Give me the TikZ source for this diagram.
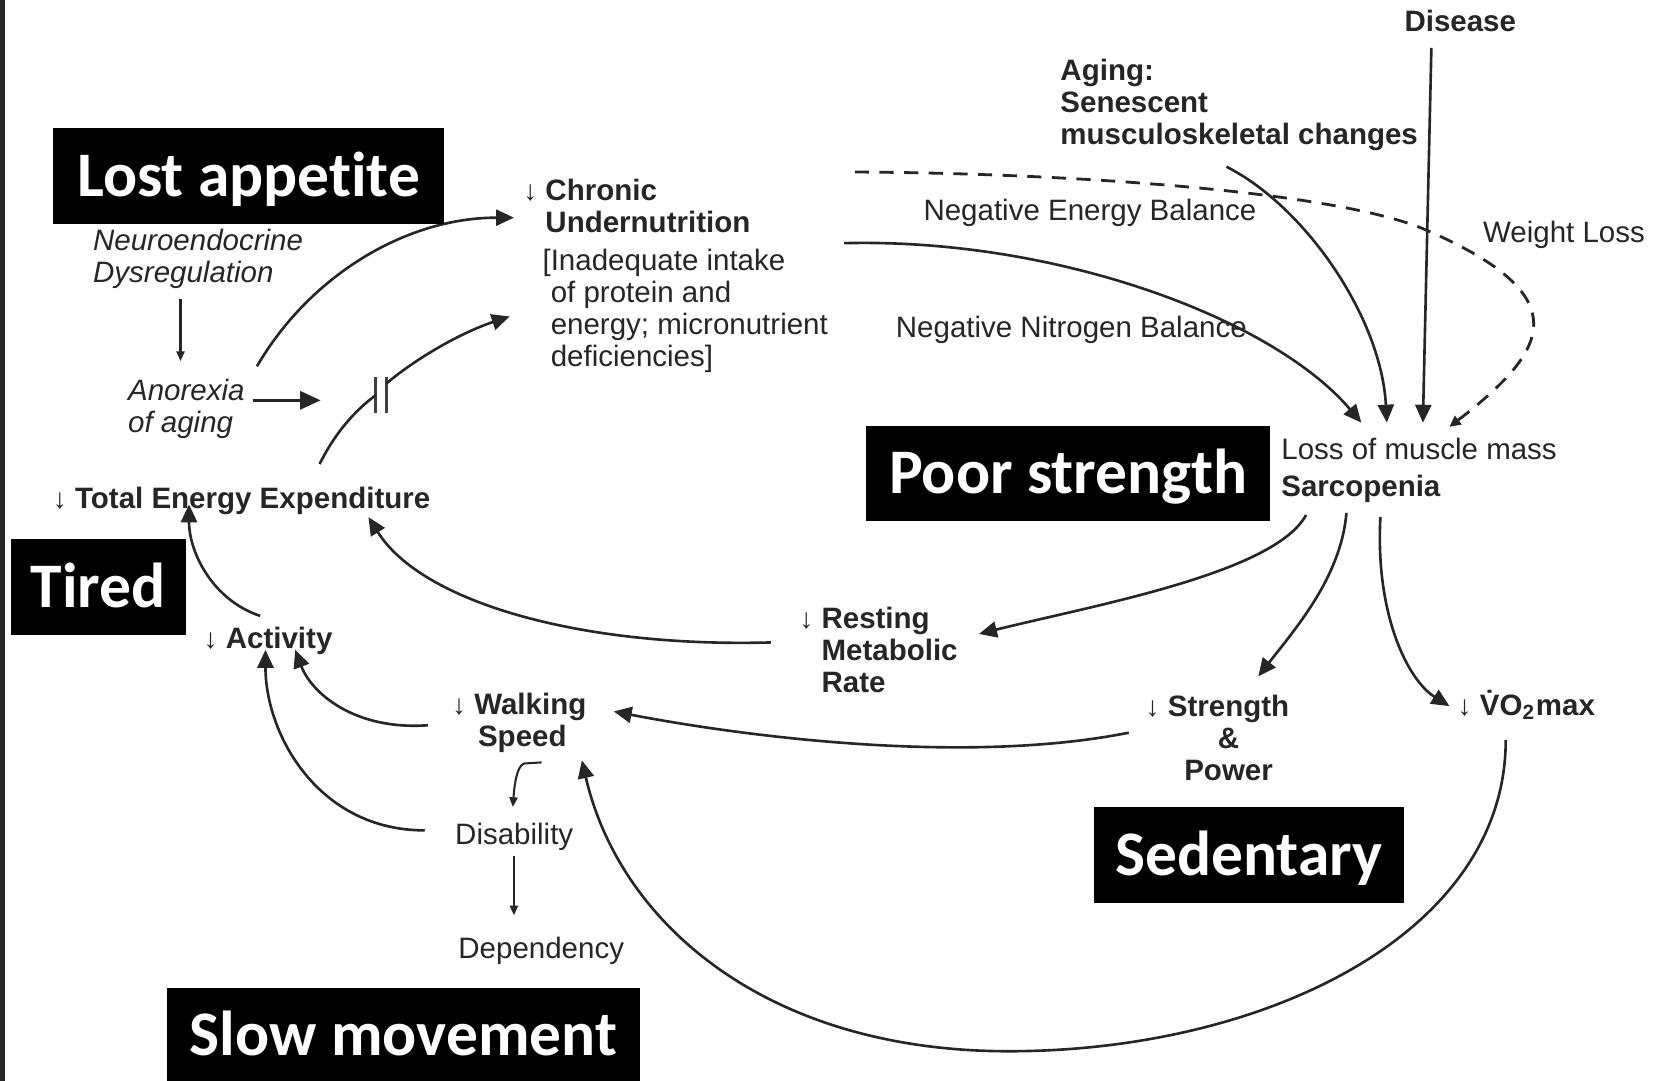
\documentclass[tikz,border=0pt]{standalone}
\usepackage{fontspec}
\setmainfont{Liberation Sans}
\newfontfamily\tagfont[Ligatures=NoCommon]{Carlito}
\usetikzlibrary{calc,arrows.meta}
\newcommand\dnarr{{\fontsize{7.5}{7.5}\selectfont ↓}}

\begin{document}
\begin{tikzpicture}[x=0.01cm,y=-0.01cm,
		txt/.style={inner sep=0pt,align=left,text=black!85,font=\fontsize{7.9}{8.6}\selectfont},
		btxt/.style={txt,font=\fontsize{7.9}{8.6}\selectfont\bfseries},
		itxt/.style={txt,font=\fontsize{7.9}{8.6}\selectfont\itshape},
		tag/.style={fill=black,text=white,inner sep=0pt,minimum height=0.9cm,text height=10.9pt,text depth=0pt,font=\fontsize{17}{17}\selectfont\tagfont\bfseries},
		link/.style={draw=black!85,line width=0.7pt,-{Triangle[length=4.8pt,width=4.3pt]}},
		slink/.style={draw=black!85,line width=0.55pt,-{Triangle[length=2.6pt,width=2.2pt]}},
		fatlink/.style={draw=black!85,line width=0.9pt,-{Triangle[length=5.5pt,width=4.8pt]}},
		wlink/.style={draw=black!85,line width=0.75pt,dash pattern=on 3.8pt off 2.8pt,-{Triangle[length=3pt,width=2.8pt]}},
		bar/.style={draw=black!75,line width=0.75pt}]
	\useasboundingbox (0,0) rectangle (1568,1018);
	\fill[white] (0,0) rectangle (1568,1018);
	\fill[black!85] (0,0) rectangle (5,1018);
	
	%%%%% TEXT (multi-line nodes sit on their last line) %%%%%
	\node[btxt,anchor=base west] (disease) at (1322,30) {Disease};
	\node[btxt,anchor=base west] (aging) at (998,136) {Aging:\\Senescent\\musculoskeletal changes};
	\node[btxt,anchor=base west] (chronic) at (513,219) {\llap{\dnarr\ }Chronic\\Undernutrition};
	\node[txt,anchor=base west] (intake) at (518,345) {\llap{[}Inadequate intake\\of protein and\\energy; micronutrient\\deficiencies]};
	\node[itxt,anchor=base west] (neuro) at (87,266) {Neuroendocrine\\Dysregulation};
	\node[itxt,anchor=base west] (anorexia) at (120,407) {Anorexia\\of aging};
	\node[btxt,anchor=base west] (tee) at (70,479) {\llap{\dnarr\ }Total Energy Expenditure};
	\node[txt,anchor=base west] (neb) at (869,208) {Negative Energy Balance};
	\node[txt,anchor=base west] (weight) at (1396,228) {Weight Loss};
	\node[txt,anchor=base west] (nnb) at (843,318) {Negative Nitrogen Balance};
	\node[txt,anchor=base west] (loss) at (1206,433) {Loss of muscle mass};
	\node[btxt,anchor=base west] (sarc) at (1206,468) {Sarcopenia};
	\node[btxt,anchor=base west] (rmr) at (773,652) {\llap{\dnarr\ }Resting\\Metabolic\\Rate};
	\node[btxt,anchor=base west] (activity) at (212,611) {\llap{\dnarr\ }Activity};
	\node[btxt,anchor=base west] (walking) at (446,703) {\llap{\dnarr\ }Walking\\\hspace{1pt}Speed};
	\node[txt,anchor=base west] (disability) at (428,795) {Disability};
	\node[txt,anchor=base west] (dependency) at (431,903) {Dependency};
	\node[btxt,align=center,anchor=base] (strength) at (1157,735) {\llap{\dnarr\ }Strength\\\&\\Power};
	\node[btxt,anchor=base west] (vo2) at (1393,674) {\llap{\dnarr\ }\.{V}O\textsubscript{2}max};
	
	%%%%% ARROWS %%%%%
	\coordinate (brk) at (359,372);
	\coordinate (bottom) at (950,990);
	\draw[slink] ($(neuro.base west)+(83,16)$) -- ($(anorexia.base west)+(50,-67)$);
	\draw[fatlink] ($(anorexia.base west)+(118,-30)$) -- ($(brk)+(-57,5)$);
	\draw[link] ($(anorexia.base west)+(122,-62)$) .. controls +(48,-83) and +(-104,0) .. ($(chronic.base west)+(-29,-14)$);
	\draw[bar] ($(brk)+(-5,-17)$) -- ($(brk)+(-5,17)$);
	\draw[bar] ($(brk)+(5,-17)$) -- ($(brk)+(5,17)$);
	\draw[draw=black!85,line width=0.7pt] ($(tee.base west)+(231,-42)$) .. controls +(15,-30) and +(-20,15) .. ($(brk)+(-5,0)$);
	\draw[link] ($(brk)+(5,-11)$) .. controls +(30,-25) and +(-45,15) .. ($(intake.base west)+(-38,-47)$);
	
	\draw[wlink] ($(neb.base west)+(-64,-46)$) .. controls +(200,1) and +(-84,-37) .. ($(weight.base west)+(-52,-11)$) .. controls +(144,63) and +(93,-72) .. ($(loss.base west)+(159,-31)$);
	\draw[link] ($(neb.base west)+(-74,21)$) .. controls +(200,-5) and +(-83,-98) .. ($(loss.base west)+(76,-35)$);
	\draw[link] ($(aging.base west)+(157,21)$) .. controls +(75,38) and +(-5,-98) .. ($(loss.base west)+(100,-35)$);
	\draw[link] ($(disease.base west)+(26,15)$) -- ($(loss.base west)+(134,-35)$);
	
	\draw[link] ($(sarc.base west)+(24,17)$) .. controls +(-30,55) and +(108,-27) .. ($(rmr.base west)+(149,-55)$);
	\draw[link] ($(sarc.base west)+(62,15)$) .. controls +(-5,60) and +(35,-45) .. ($(strength.base)+(28,-98)$);
	\draw[link] ($(sarc.base west)+(94,19)$) .. controls +(-5,90) and +(-40,-25) .. ($(vo2.base west)+(-28,-9)$);
	
	\draw[link] ($(rmr.base west)+(-47,-47)$) .. controls +(-180,5) and +(50,80) .. ($(tee.base west)+(277,8)$);
	\draw[link] ($(activity.base west)+(33,-31)$) .. controls +(-45,-15) and +(0,45) .. ($(tee.base west)+(108,-4)$);
	\draw[link] ($(walking.base west)+(-43,-20)$) .. controls +(-70,5) and +(15,40) .. ($(activity.base west)+(66,1)$);
	\draw[link] ($(disability.base west)+(-28,-13)$) .. controls +(-100,0) and +(0,80) .. ($(activity.base west)+(38,1)$);
	\draw[link] ($(strength.base)+(-94,-45)$) .. controls +(-150,30) and +(130,25) .. ($(walking.base west)+(132,-33)$);
	\draw[link] ($(vo2.base west)+(25,23)$) .. controls +(0,183) and +(240,0) .. (bottom) .. controls +(-230,0) and +(35,152) .. ($(walking.base west)+(102,13)$);
	\draw[slink] ($(walking.base west)+(64,15)$) -- ++(-16,1) .. controls +(-5,1) and +(2,-30) .. ($(disability.base west)+(55,-35)$);
	\draw[slink] ($(disability.base west)+(56,11)$) -- ($(dependency.base west)+(53,-41)$);
	
	%%%%% LABELS %%%%%
	\node[tag,minimum width=3.68cm] (lost) at (234,166) {Lost appetite};
	\node[tag,minimum width=1.65cm] (tired) at (92.5,553) {Tired};
	\node[tag,minimum width=3.80cm] (poor) at (1006,446) {Poor strength};
	\node[tag,minimum width=2.92cm] (sedentary) at (1176,805) {Sedentary};
	\node[tag,minimum width=4.46cm] (slow) at (380,975) {Slow movement};
\end{tikzpicture}
\end{document}
